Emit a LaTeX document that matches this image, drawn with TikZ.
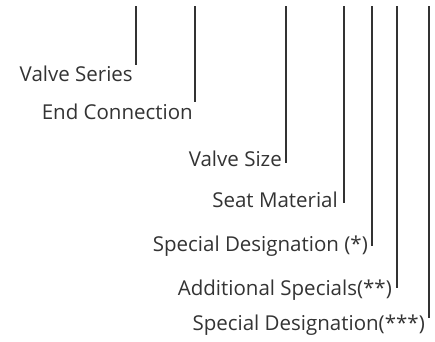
\documentclass[tikz,border=0pt]{standalone}
\usepackage{fontspec}
\setmainfont{Open Sans}
\definecolor{ink}{HTML}{333333}
\begin{document}
\begin{tikzpicture}[x=1pt,y=-1pt,
  lbl/.style={anchor=base east,inner sep=0pt,text=ink,font=\fontsize{20.5}{24}\selectfont},
  tick/.style={draw=ink,line width=1.2pt}]
\useasboundingbox (0,0) rectangle (435,341);
% label nodes
\node[lbl] (series) at (133,81) {Valve Series};
\node[lbl] (endc) at (193,119) {End Connection};
\node[lbl] (size) at (282,166) {Valve Size};
\node[lbl] (seat) at (338,207) {Seat Material};
\node[lbl] (spec1) at (368,251) {Special Designation (*)};
\node[lbl] (addl) at (392,295) {Additional Specials(**)};
\node[lbl] (spec3) at (425,330) {Special Designation(***)};
% line ends
\coordinate (t1) at (136,6);  \coordinate (b1) at (136,65);
\coordinate (t2) at (195,6);  \coordinate (b2) at (195,102);
\coordinate (t3) at (286,6);  \coordinate (b3) at (286,163);
\coordinate (t4) at (344,6);  \coordinate (b4) at (344,203);
\coordinate (t5) at (372,6);  \coordinate (b5) at (372,246);
\coordinate (t6) at (397,6);  \coordinate (b6) at (397,288);
\coordinate (t7) at (429,6);  \coordinate (b7) at (429,318);
\foreach \i in {1,...,7} \draw[tick] (t\i) -- (b\i);
\end{tikzpicture}
\end{document}
